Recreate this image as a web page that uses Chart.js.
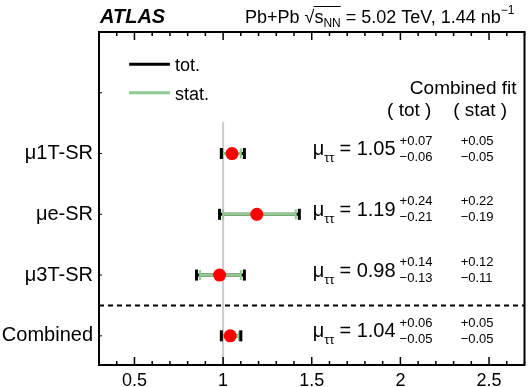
<!DOCTYPE html>
<html>
<head>
    <title>Combined fit mu_tautau</title>
    <script src="https://cdn.jsdelivr.net/npm/chart.js"></script>
    <style>
        body { margin: 0; background: #fff; }
        canvas { display: block; }
    </style>
</head>
<body>
    <canvas id="fitChart" width="531" height="387"></canvas>

<script>
    // data
    const categories = ['μ1T-SR', 'μe-SR', 'μ3T-SR', 'Combined'];
    const rowPos = [2, 3, 4, 5];
    const muValues = [1.05, 1.19, 0.98, 1.04];
    const totUp = [0.07, 0.24, 0.14, 0.06];
    const totDown = [0.06, 0.21, 0.13, 0.05];
    const statUp = [0.05, 0.22, 0.12, 0.05];
    const statDown = [0.05, 0.19, 0.11, 0.05];
    const xTicks = [0.5, 1, 1.5, 2, 2.5];
    const xMinorStep = 0.1;

    const FONT = '"Liberation Sans", Arial, Helvetica, sans-serif';
    const GREEN = '#8fcb8f';

    function fmt(v, sign) {
        return (sign > 0 ? '+' : '\u2212') + v.toFixed(2);
    }

    function line(ctx, x1, y1, x2, y2) {
        ctx.beginPath();
        ctx.moveTo(x1, y1);
        ctx.lineTo(x2, y2);
        ctx.stroke();
    }

    const fitPlugin = {
        id: 'fitPlugin',
        beforeDatasetsDraw(chart) {
            const { ctx, chartArea: a, scales: { x, y } } = chart;
            ctx.save();

            // reference line at mu = 1
            ctx.strokeStyle = '#cccccc';
            ctx.lineWidth = 2;
            const x1 = x.getPixelForValue(1);
            line(ctx, x1, y.getPixelForValue(1.48), x1, a.bottom);

            // separator before the combined row
            ctx.strokeStyle = '#000';
            ctx.setLineDash([5, 4]);
            const ys = y.getPixelForValue(4.5);
            line(ctx, a.left, ys, a.right, ys);
            ctx.setLineDash([]);

            // error bars
            for (let i = 0; i < muValues.length; i++) {
                const yy = y.getPixelForValue(rowPos[i]);
                const tl = x.getPixelForValue(muValues[i] - totDown[i]);
                const th = x.getPixelForValue(muValues[i] + totUp[i]);
                const sl = x.getPixelForValue(muValues[i] - statDown[i]);
                const sh = x.getPixelForValue(muValues[i] + statUp[i]);

                ctx.strokeStyle = '#000';
                ctx.lineWidth = 3;
                line(ctx, tl, yy, th, yy);
                ctx.strokeStyle = GREEN;
                line(ctx, sl, yy, sh, yy);

                ctx.fillStyle = GREEN;
                ctx.fillRect(sl - 1, yy - 5, 2, 10);
                ctx.fillRect(sh - 1, yy - 5, 2, 10);
                ctx.fillStyle = '#000';
                ctx.fillRect(tl - 1.5, yy - 5.5, 3, 11);
                ctx.fillRect(th - 1.5, yy - 5.5, 3, 11);
            }
            ctx.restore();
        },
        afterDraw(chart) {
            const { ctx, chartArea: a, scales: { x, y } } = chart;
            ctx.save();

            // frame
            ctx.strokeStyle = '#000';
            ctx.lineWidth = 2;
            ctx.strokeRect(a.left, a.top, a.right - a.left, a.bottom - a.top);

            // inward ticks top and bottom
            ctx.lineWidth = 1.5;
            for (let v = 0.3; v <= 2.7 + 1e-9; v += xMinorStep) {
                const vv = Math.round(v * 10) / 10;
                const px = x.getPixelForValue(vv);
                const major = xTicks.some(t => Math.abs(t - vv) < 1e-6);
                const len = major ? 8 : 4;
                line(ctx, px, a.bottom, px, a.bottom - len);
                line(ctx, px, a.top, px, a.top + len);
            }
            // small ticks on left axis
            ctx.lineWidth = 1;
            for (let r = 1; r <= 5; r++) {
                const py = y.getPixelForValue(r);
                line(ctx, a.left, py, a.left + 3, py);
            }

            ctx.fillStyle = '#000';

            // category labels
            ctx.font = '20px ' + FONT;
            ctx.textAlign = 'right';
            ctx.textBaseline = 'middle';
            categories.forEach((c, i) => {
                ctx.fillText(c, a.left - 6, y.getPixelForValue(rowPos[i]));
            });

            // result texts
            const xMu = x.getPixelForValue(1.505);
            const xStat = x.getPixelForValue(2.34);
            ctx.textBaseline = 'alphabetic';
            ctx.textAlign = 'left';
            for (let i = 0; i < muValues.length; i++) {
                const yy = y.getPixelForValue(rowPos[i]);
                let cx = xMu;
                ctx.font = '20px ' + FONT;
                ctx.fillText('μ', cx, yy + 1.5);
                cx += ctx.measureText('μ').width;
                ctx.font = '13px ' + FONT;
                ctx.fillText('ττ', cx, yy + 8.5);
                cx += ctx.measureText('ττ').width + 5;
                ctx.font = '20px ' + FONT;
                const main = '= ' + muValues[i].toFixed(2);
                ctx.fillText(main, cx, yy + 1.5);
                cx += ctx.measureText(main).width + 4;
                ctx.font = '13px ' + FONT;
                ctx.fillText(fmt(totUp[i], 1), cx, yy - 9);
                ctx.fillText(fmt(totDown[i], -1), cx, yy + 7);
                ctx.fillText(fmt(statUp[i], 1), xStat, yy - 9);
                ctx.fillText(fmt(statDown[i], -1), xStat, yy + 7);
            }

            // column headers
            ctx.font = '19px ' + FONT;
            ctx.textAlign = 'center';
            ctx.textBaseline = 'middle';
            const yh = y.getPixelForValue(1.3);
            ctx.fillText('( tot )', x.getPixelForValue(2.05), yh);
            ctx.fillText('( stat )', x.getPixelForValue(2.45), yh);

            // Combined fit label
            ctx.textAlign = 'right';
            ctx.fillText('Combined fit', a.right - 8, y.getPixelForValue(0.93));

            // legend
            const lx1 = x.getPixelForValue(0.47);
            const lx2 = x.getPixelForValue(0.70);
            const yTot = y.getPixelForValue(0.53);
            const yStat = y.getPixelForValue(1.0);
            ctx.lineWidth = 3;
            ctx.strokeStyle = '#000';
            line(ctx, lx1, yTot, lx2, yTot);
            ctx.strokeStyle = GREEN;
            line(ctx, lx1, yStat, lx2, yStat);
            ctx.textAlign = 'left';
            ctx.font = '18px ' + FONT;
            ctx.fillText('tot.', lx2 + 5, yTot + 2);
            ctx.fillText('stat.', lx2 + 5, yStat + 2);

            // header above the frame
            ctx.textBaseline = 'alphabetic';
            ctx.font = 'italic bold 20px ' + FONT;
            ctx.fillText('ATLAS', a.left + 1, 23);

            ctx.font = '18px ' + FONT;
            let hx = 245;
            ctx.fillText('Pb+Pb ', hx, 23);
            hx += ctx.measureText('Pb+Pb ').width;
            ctx.fillText('√', hx, 23);
            hx += ctx.measureText('√').width;
            const sStart = hx;
            ctx.fillText('s', hx, 23);
            hx += ctx.measureText('s').width;
            ctx.font = '12px ' + FONT;
            ctx.fillText('NN', hx, 27);
            hx += ctx.measureText('NN').width;
            ctx.lineWidth = 1;
            ctx.strokeStyle = '#000';
            line(ctx, sStart - 1, 6.5, hx, 6.5);
            ctx.font = '18px ' + FONT;
            const rest = ' = 5.02 TeV, 1.44 nb';
            ctx.fillText(rest, hx, 23);
            hx += ctx.measureText(rest).width;
            ctx.font = '12px ' + FONT;
            ctx.fillText('\u22121', hx, 14);

            ctx.restore();
        }
    };

    new Chart(document.getElementById('fitChart'), {
        type: 'scatter',
        data: {
            datasets: [{
                data: muValues.map((m, i) => ({ x: m, y: rowPos[i] })),
                backgroundColor: '#ff0000',
                borderWidth: 0,
                pointRadius: 6.5,
                pointHoverRadius: 6.5
            }]
        },
        options: {
            responsive: false,
            animation: false,
            layout: { padding: { left: 99, right: 4, top: 32, bottom: 0 } },
            plugins: { legend: { display: false }, tooltip: { enabled: false } },
            scales: {
                x: {
                    type: 'linear',
                    min: 0.3,
                    max: 2.7,
                    afterBuildTicks: axis => { axis.ticks = xTicks.map(v => ({ value: v })); },
                    afterFit: axis => { axis.height = 22; },
                    grid: { display: false, drawTicks: false },
                    border: { display: false },
                    ticks: {
                        color: '#000',
                        padding: 7,
                        maxRotation: 0,
                        font: { family: FONT, size: 18, lineHeight: 1.05 },
                        callback: v => String(v)
                    }
                },
                y: {
                    type: 'linear',
                    display: false,
                    reverse: true,
                    min: 0,
                    max: 5.48
                }
            }
        },
        plugins: [fitPlugin]
    });
</script>
</body>
</html>
